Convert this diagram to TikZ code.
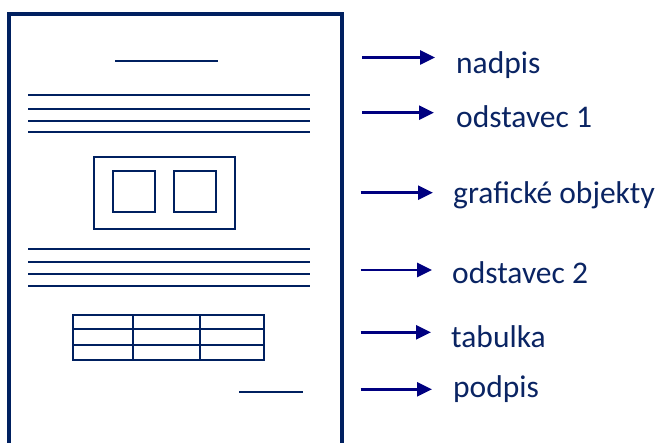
\documentclass[tikz,border=0pt]{standalone}
\usepackage{fontspec}
\setmainfont{Carlito}
\usetikzlibrary{arrows.meta}
\definecolor{pageblue}{HTML}{002060}
\definecolor{arrowblue}{HTML}{000080}
\definecolor{textblue}{HTML}{0A2463}
\begin{document}
\begin{tikzpicture}[x=1pt,y=-1pt,
  pageframe/.style={draw=pageblue,line width=4pt},
  rule/.style={draw=pageblue,line width=1.7pt},
  pointer/.style={draw=arrowblue,line width=2.6pt,-{Triangle[length=15pt,width=14pt]}},
  caption/.style={anchor=base west,inner sep=0pt,text=textblue,font=\fontsize{31.5}{36}\selectfont}]
\useasboundingbox (0,0) rectangle (662,443);
\begin{scope}
\clip (0,0) rectangle (662,443);
% sheet of paper, running off the bottom edge
\draw[pageframe] (8.7,450) -- (8.7,14) -- (342,14) -- (342,450);
\end{scope}
% heading
\draw[rule] (115,61.3) -- (218,61.3);
% first paragraph
\foreach \y in {95.3,108.7,120.7,132.3}
  \draw[rule] (28.3,\y) -- (310,\y);
% picture frame with two images
\draw[rule] (94,156.7) rectangle (235,229.3);
\draw[rule] (112.7,170.7) rectangle (154.7,212);
\draw[rule] (173.7,170.7) rectangle (216,212);
% second paragraph
\foreach \y in {248.7,262,274,285.7}
  \draw[rule] (28.3,\y) -- (310,\y);
% table
\draw[rule] (73.3,315.3) rectangle (264,360);
\draw[rule] (73.3,329.3) -- (264,329.3);
\draw[rule] (73.3,345.3) -- (264,345.3);
\draw[rule] (132.7,315.3) -- (132.7,360);
\draw[rule] (200.3,315.3) -- (200.3,360);
% signature
\draw[rule] (239.3,391.7) -- (303.3,391.7);
% labels
\node[caption] (l1) at (456,73.3) {nadpis};
\node[caption] (l2) at (456,127.7) {odstavec 1};
\node[caption] (l3) at (453,203.3) {grafické objekty};
\node[caption] (l4) at (452,284) {odstavec 2};
\node[caption] (l5) at (451,347.3) {tabulka};
\node[caption] (l6) at (453,397.3) {podpis};
% pointers
\coordinate (s1) at (362,57.5);   \coordinate (e1) at (435,57.5);
\coordinate (s2) at (362,112.7);  \coordinate (e2) at (434,112.7);
\coordinate (s3) at (360.5,192.7);\coordinate (e3) at (433,192.7);
\coordinate (s4) at (360.5,270);  \coordinate (e4) at (432,270);
\coordinate (s5) at (360.5,332.3);\coordinate (e5) at (431,332.3);
\coordinate (s6) at (360.5,389.3);\coordinate (e6) at (432,389.3);
\foreach \i in {1,...,6}
  \draw[pointer] (s\i) -- (e\i);
\end{tikzpicture}
\end{document}
